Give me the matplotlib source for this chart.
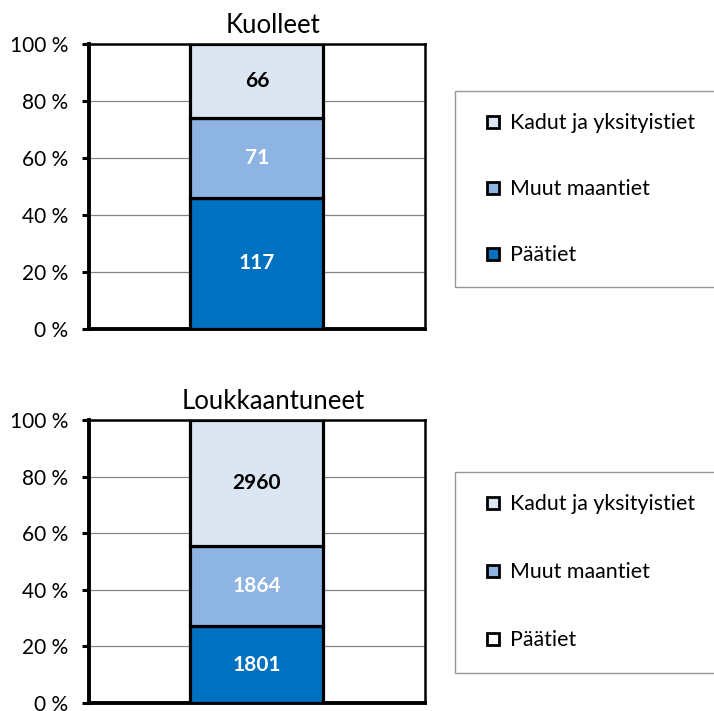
import matplotlib
matplotlib.use('Agg')
import matplotlib.pyplot as plt
from matplotlib.lines import Line2D

plt.rcParams['font.family'] = ['Lato', 'DejaVu Sans']

# Data
categories = ['Päätiet', 'Muut maantiet', 'Kadut ja yksityistiet']
colors = ['#0070C0', '#8EB4E3', '#DCE6F2']
label_colors = ['white', 'white', 'black']
kuolleet = [117, 71, 66]
loukkaantuneet = [1801, 1864, 2960]
titles = ['Kuolleet', 'Loukkaantuneet']
yticks = [0, 20, 40, 60, 80, 100]
ytick_labels = ['0 %', '20 %', '40 %', '60 %', '80 %', '100 %']

fig = plt.figure(figsize=(7.14, 7.11), dpi=100)
ax_top = fig.add_axes([0.1246, 0.5373, 0.4706, 0.4008])
ax_bot = fig.add_axes([0.1246, 0.0113, 0.4706, 0.3980])


def draw_panel(ax, values, title, legend_colors, legend_y, spacing):
    total = sum(values)
    bottom = 0
    for val, col, lc in zip(values, colors, label_colors):
        pct = val / total * 100
        ax.bar(0.5, pct, width=0.396, bottom=bottom, color=col,
               edgecolor='black', linewidth=2.3, zorder=3)
        ax.text(0.5, bottom + pct / 2, str(val), ha='center', va='center',
                color=lc, fontsize=15, fontweight='bold', zorder=4)
        bottom += pct

    ax.set_xlim(0, 1)
    ax.set_ylim(0, 100)
    ax.set_yticks(yticks)
    ax.set_yticklabels(ytick_labels, fontsize=15)
    ax.set_xticks([])
    ax.yaxis.grid(True, color='#868686', linewidth=0.9, zorder=0)
    ax.set_axisbelow(True)
    ax.tick_params(axis='y', direction='out', length=5, width=2.2, pad=10)
    for side in ['left', 'bottom']:
        ax.spines[side].set_linewidth(2.8)
    for side in ['top', 'right']:
        ax.spines[side].set_linewidth(1.8)
    # title sits a bit right of the plot centre, like the original
    ax.set_title(title, fontsize=18.5, x=0.548, pad=8)

    # Legend, top entry first
    handles = [Line2D([], [], marker='s', linestyle='', markersize=8.5,
                      markerfacecolor=c, markeredgecolor='black',
                      markeredgewidth=2.0)
               for c in reversed(legend_colors)]
    labels = list(reversed(categories))
    leg = fig.legend(handles, labels, loc='upper left',
                     bbox_to_anchor=(455 / 714, legend_y),
                     fontsize=15.4, frameon=True, fancybox=False,
                     borderpad=1.05, labelspacing=spacing,
                     handlelength=1.45, handletextpad=0.07,
                     borderaxespad=0)
    leg.get_frame().set_edgecolor('#7F7F7F')
    leg.get_frame().set_linewidth(1.0)


draw_panel(ax_top, kuolleet, titles[0], colors, 1 - 91 / 711, 2.14)
# the second chart's legend shows an empty box for Päätiet
draw_panel(ax_bot, loukkaantuneet, titles[1], ['white', colors[1], colors[2]],
           1 - 472 / 711, 2.24)

fig.savefig('out.png', dpi=100)
